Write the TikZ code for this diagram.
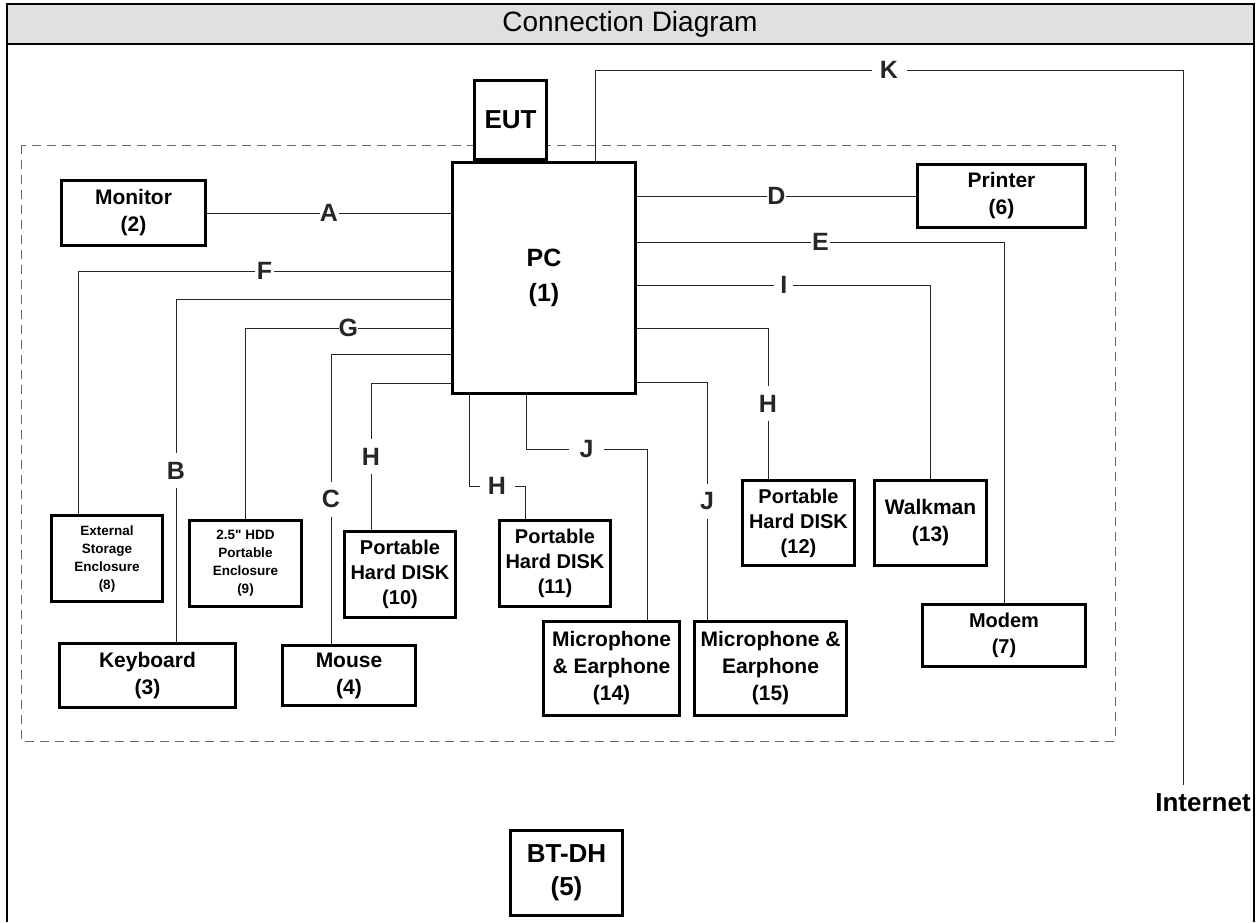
\documentclass[tikz,border=0pt]{standalone}
\usepackage{fontspec}
\setmainfont{Liberation Sans}[Ligatures=TeXOff]
\begin{document}
\begin{tikzpicture}[x=1pt, y=-1pt,
			box/.style={draw, line width=3pt, fill=white, align=center, inner sep=0pt, font=\bfseries\fontsize{21}{27}\selectfont},
			small/.style={box, minimum width=111pt, minimum height=86pt, font=\bfseries\fontsize{13.5}{18}\selectfont},
			disk/.style={box, minimum width=111pt, minimum height=86pt, font=\bfseries\fontsize{20}{25}\selectfont},
			lbl/.style={fill=white, inner sep=0pt, minimum width=19pt, minimum height=35pt, font=\bfseries\fontsize{25}{30}\selectfont},
			lblw/.style={lbl, minimum width=35pt},
			link/.style={line width=1pt, black!85}]
			\useasboundingbox (0,0) rectangle (1258,922);
			\filldraw[fill=black!12, line width=2.5pt] (7,4) rectangle (1254,44);
			\draw[line width=2.5pt] (7,44) -- (7,922);
			\draw[line width=2.5pt] (1254,44) -- (1254,922);
			\node[font=\fontsize{28}{32}\selectfont] (title) at (630,24) {Connection Diagram};
			\draw[black!60, line width=1pt, dash pattern=on 9pt off 6pt] (21,145) rectangle (1115,741);
			\node[box, minimum width=72pt, minimum height=79pt, font=\bfseries\fontsize{26}{30}\selectfont] (eut) at (510.5,120) {EUT};
			\node[box, minimum width=183pt, minimum height=231pt, font=\bfseries\fontsize{25}{35}\selectfont] (pc) at (544,278) {PC\\(1)};
			\node[box, minimum width=144pt, minimum height=65pt] (mon) at (133.5,213) {Monitor\\(2)};
			\node[box, minimum width=168pt, minimum height=63pt] (prn) at (1001.5,196) {Printer\\(6)};
			\node[small] (ext) at (107,558.5) {External\\Storage\\Enclosure\\(8)};
			\node[small, minimum width=112pt] (hdd) at (245.5,563.5) {2.5" HDD\\Portable\\Enclosure\\(9)};
			\node[box, minimum width=176pt, minimum height=64pt] (kbd) at (147.5,675.5) {Keyboard\\(3)};
			\node[box, minimum width=133pt, minimum height=60pt] (mouse) at (349,675.5) {Mouse\\(4)};
			\node[disk] (phd10) at (400,574.5) {Portable\\Hard DISK\\(10)};
			\node[disk] (phd11) at (555,563.5) {Portable\\Hard DISK\\(11)};
			\node[disk, minimum width=112pt, minimum height=85pt] (phd12) at (798.5,523) {Portable\\Hard DISK\\(12)};
			\node[box, minimum width=112pt, minimum height=85pt] (walk) at (930.5,523) {Walkman\\(13)};
			\node[box, minimum width=136pt, minimum height=94pt] (mic14) at (611.5,668.5) {Microphone\\\& Earphone\\(14)};
			\node[box, minimum width=152pt, minimum height=94pt] (mic15) at (770.5,668.5) {Microphone \&\\Earphone\\(15)};
			\node[box, minimum width=163pt, minimum height=62pt, font=\bfseries\fontsize{20}{26}\selectfont] (modem) at (1004,635.5) {Modem\\(7)};
			\node[box, minimum width=112pt, minimum height=85pt, font=\bfseries\fontsize{26}{33}\selectfont] (btdh) at (566.5,873) {BT-DH\\(5)};
			\node[font=\bfseries\fontsize{26}{30}\selectfont] (inet) at (1203,803) {Internet};
			\coordinate (kend) at (1183,785);
			\draw[link] (mon.east) -- node[lbl]{A} (mon.east -| pc.west);
			\draw[link] ([yshift=7pt]pc.west) -| node[lbl, pos=0.25]{F} ([xshift=-29pt]ext.north);
			\draw[link] ([yshift=-21pt]pc.west) -| node[lbl, pos=0.75]{B} ([xshift=28.5pt]kbd.north);
			\draw[link] ([yshift=-50pt]pc.west) -| node[lbl, pos=0.25]{G} (hdd.north);
			\draw[link] ([yshift=-76pt]pc.west) -| node[lbl, pos=0.75]{C} ([xshift=-18pt]mouse.north);
			\draw[link] ([yshift=-105pt]pc.west) -| node[lbl, pos=0.75]{H} ([xshift=-29pt]phd10.north);
			\draw[link] ([xshift=-75pt]pc.south) -- ++(0,91) -- node[lblw]{H} ++(56,0) -- ([xshift=-30pt]phd11.north);
			\draw[link] ([xshift=-18pt]pc.south) -- ++(0,54) -- node[lblw]{J} ++(121,0) -- ([xshift=35.5pt]mic14.north);
			\draw[link] (prn.west -| pc.east) -- node[lbl]{D} (prn.west);
			\draw[link] ([yshift=36pt]pc.east) -| node[lbl, pos=0.25]{E} (modem.north);
			\draw[link] ([yshift=-7pt]pc.east) -| node[lbl, pos=0.25]{I} (walk.north);
			\draw[link] ([yshift=-50pt]pc.east) -| node[lbl, pos=0.75]{H} ([xshift=-30.5pt]phd12.north);
			\draw[link] ([yshift=-104pt]pc.east) -| node[lbl, pos=0.75]{J} ([xshift=-63.5pt]mic15.north);
			\draw[link] ([xshift=51pt]pc.north) |- node[lblw, pos=0.75]{K} ++(588,-91) -- (kend);
		\end{tikzpicture}
\end{document}
